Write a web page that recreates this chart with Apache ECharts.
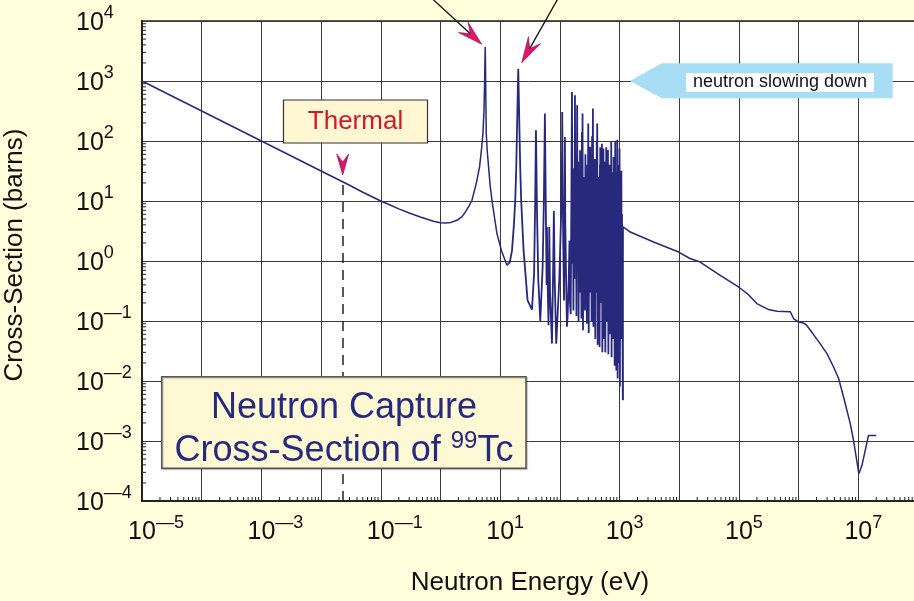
<!DOCTYPE html>
<html><head><meta charset="utf-8">
<script src="https://cdn.jsdelivr.net/npm/echarts@6/dist/echarts.min.js"></script>
<style>html,body{margin:0;padding:0;background:#ffffdc;}#c{width:914px;height:601px;}</style>
</head><body><div id="c"></div>
<script>
const FONT = '"Liberation Sans", Arial, Helvetica, sans-serif';

// ---- data: energy (eV) and capture cross-section (barns) ----
const thermalE = [1e-5, 1e-4, 1e-3, 1e-2, 0.03, 0.05, 0.1, 0.15, 0.2, 0.3, 0.46, 0.6, 0.76, 1.0, 1.2, 1.5, 1.89, 2.3, 2.6, 3.0, 3.37, 4.0, 4.52, 4.85, 5.15, 5.35, 5.48, 5.58, 5.62, 5.66, 5.75, 5.85, 6.1, 6.4, 6.8, 7.29, 8.0, 8.84, 10.5, 13.0];
const thermalXS = [1000, 316, 100, 31.6, 18.3, 14.0, 10, 8.4, 7.4, 6.3, 5.4, 4.95, 4.6, 4.35, 4.3, 4.4, 4.77, 5.5, 6.5, 8.2, 10.3, 20, 37, 70, 133, 300, 905, 2500, 3690, 2500, 600, 133, 65, 37, 18, 10.3, 5.5, 2.86, 1.5, 0.85];

const resLowE = [14.5, 15.8, 17.0, 17.9, 18.6, 19.1, 19.7, 20.1, 20.5, 21.1,
  21.7, 22.5, 24.7, 28.8, 34.1, 37.0, 38.5, 39.4, 39.8, 40.3,
  41.3, 43.5, 47.0, 51.5, 54.0, 55.5, 56.2, 57.0, 58.5, 60.0,
  60.8, 62.0, 64.6, 65.9, 66.5, 68.5, 73.8, 77.0, 79.4, 82.0,
  87.0, 98.0, 106.0, 109.0, 109.6, 111.0, 114.0, 117.5, 120.5, 121.6,
  123.5, 127.0, 131.5, 135.0, 141.0, 145.0, 148.0, 152.0];
const resLowXS = [0.95, 1.5, 4, 10.3, 35, 133, 600, 1600, 600, 133,
  35, 10.3, 1.5, 0.22, 0.155, 0.6, 8, 60, 151, 60,
  8, 0.5, 0.10, 0.8, 10, 100, 286, 60, 5, 0.4,
  3.7, 0.6, 0.085, 0.6, 3.7, 0.3, 0.042, 0.6, 6.8, 0.5,
  0.042, 0.5, 8, 80, 304, 40, 2, 0.22, 5, 117,
  4, 0.6, 0.08, 0.12, 0.5, 2.2, 0.2, 0.13];

const resHighE = [154.9, 159.6, 162.9, 166.0, 169.0, 172.2, 175.4, 179.1, 182.8, 186.2,
  189.7, 195.0, 198.6, 202.3, 206.1, 209.9, 213.8, 217.8, 221.8, 225.9,
  230.1, 234.4, 237.7, 239.9, 244.3, 248.9, 253.5, 258.2, 263.0, 267.9,
  272.9, 278.0, 283.1, 288.4, 292.4, 299.2, 304.8, 310.5, 316.2, 322.1,
  328.1, 334.2, 340.4, 346.7, 352.4, 358.1, 364.8, 371.5, 378.4, 385.5,
  392.6, 399.9, 407.4, 415.0, 418.8, 422.7, 430.5, 438.5, 446.7, 455.0,
  463.4, 469.9, 473.2, 475.4, 483.1, 490.9, 498.9, 507.0, 515.2, 522.4,
  529.7, 537.0, 545.8, 554.6, 562.3, 570.2, 578.1, 588.8, 594.3, 598.4,
  608.1, 616.6, 626.6, 639.7, 650.1, 660.7, 669.9, 679.2, 688.6, 698.2,
  707.9, 717.8, 722.8, 726.1, 736.2, 748.2, 758.6, 769.1, 779.8, 794.3,
  805.4, 816.6, 827.9, 837.5, 843.3, 847.2, 859.1, 871.0, 883.1, 895.4,
  905.7, 916.2, 929.0, 941.9, 955.0, 968.3, 979.5, 990.8, 995.4, 1000,
  1014, 1028, 1042, 1057, 1064, 1072, 1086, 1100, 1135];
const resHighXS = [0.13, 656, 0.9, 14, 0.15, 35, 0.5, 578, 1.0, 22,
  0.12, 394, 0.7, 45, 0.1, 8, 0.3, 70, 0.8, 12,
  0.11, 140, 2.0, 286, 0.07, 25, 0.5, 9, 0.15, 60,
  0.4, 18, 0.09, 40, 1.2, 195, 0.063, 30, 0.3, 80,
  0.8, 15, 0.1, 120, 2, 347, 0.08, 20, 0.5, 50,
  0.05, 12, 0.3, 100, 4, 195, 0.04, 25, 0.6, 8,
  0.037, 40, 3, 79, 0.2, 30, 0.9, 90, 0.03, 15,
  0.4, 75, 0.05, 20, 0.8, 45, 0.03, 12, 1.5, 79,
  0.1, 25, 0.5, 71, 0.028, 18, 0.3, 40, 0.06, 10,
  0.6, 35, 2, 96, 0.025, 20, 0.2, 30, 0.05, 54,
  0.3, 15, 0.018, 45, 1.5, 101, 0.1, 22, 0.015, 30,
  0.4, 105, 0.011, 25, 0.15, 40, 0.02, 15, 0.5, 75,
  0.008, 20, 0.2, 10, 0.05, 32, 0.3, 6, 0.0048];

const fastE = [1148, 1514, 3715, 9772, 15136, 22387, 48641, 98400, 144544, 199526,
  313329, 432514, 724436, 822243, 1.0e6, 1.2e6, 1.365e6, 2.29e6, 2.99e6, 3.85e6,
  4.68e6, 5.66e6, 7.33e6, 8.32e6, 1.02e7, 1.15e7, 1.48e7, 2.0e7];
const fastXS = [3.7, 3.04, 2.07, 1.41, 1.1, 0.96, 0.578, 0.369, 0.275, 0.195,
  0.155, 0.145, 0.143, 0.11, 0.096, 0.093, 0.085, 0.042, 0.0286, 0.0171,
  0.011, 0.0054, 0.00195, 0.00102, 0.000286, 0.00039, 0.00124, 0.00124];

const thermalEnergy = 0.0233;          // dashed "Thermal" marker position
const thermalMarkTop = 20.5;           // where the dashed line meets the curve

// axis ranges and tick decades
const X_MIN = 1e-5, X_MAX = 1e8, Y_MIN = 1e-4, Y_MAX = 1e4;
const xDecades = [-5, -4, -3, -2, -1, 0, 1, 2, 3, 4, 5, 6, 7];
const yDecades = [-4, -3, -2, -1, 0, 1, 2, 3];
const minorMultipliers = [2, 3, 4, 5, 6, 7, 8, 9];

const pairs = (E, S) => E.map((e, i) => [e, S[i]]);
const lowPart = pairs(thermalE, thermalXS);
const resPart = [lowPart[lowPart.length - 1]].concat(pairs(resLowE, resLowXS), pairs(resHighE, resHighXS));
const fastPart = [resPart[resPart.length - 1]].concat(pairs(fastE, fastXS));

const xMinor = [];
xDecades.forEach(d => minorMultipliers.forEach(m => xMinor.push([m * Math.pow(10, d), Y_MIN])));
const yMinor = [];
yDecades.forEach(d => minorMultipliers.forEach(m => yMinor.push([X_MIN, m * Math.pow(10, d)])));

function expOf(v) { return Math.round(Math.log10(v)); }
function expLabel(e) { return e < 0 ? '\u2014' + (-e) : String(e); }

function dart(tx, ty, dx, dy, len, hw) {
  const L = Math.hypot(dx, dy), ux = dx / L, uy = dy / L, nx = -uy, ny = ux;
  const bx = tx - ux * len, by = ty - uy * len;
  const mx = tx - ux * len * 0.62, my = ty - uy * len * 0.62;
  return { pts: [[tx, ty], [bx + nx * hw, by + ny * hw], [mx, my], [bx - nx * hw, by - ny * hw]], notch: [mx, my] };
}
const PINK = '#e5126f';
const a1 = dart(481.7, 44.3, 56.7, 52.3, 25, 7);
const a2 = dart(521.7, 62.7, -33.3, 58.7, 26, 7);
const a3 = dart(342.7, 175, 0, 1, 21, 6);
const CURVE = '#28287c';

const chart = echarts.init(document.getElementById('c'), null, { renderer: 'canvas' });
chart.setOption({
  animation: false,
  backgroundColor: '#ffffdc',
  textStyle: { fontFamily: FONT },
  grid: { left: 142, right: -4, top: 21, bottom: 100, show: true, backgroundColor: '#ffffff', borderColor: '#222', borderWidth: 1.5, containLabel: false, outerBoundsMode: 'none' },
  xAxis: {
    type: 'log', logBase: 10, min: X_MIN, max: X_MAX, interval: 1, splitNumber: 13,
    name: 'Neutron Energy (eV)', nameLocation: 'middle', nameGap: 69,
    nameTextStyle: { fontSize: 26, color: '#111', fontFamily: FONT },
    axisLine: { show: true, onZero: false, lineStyle: { color: '#222', width: 2 } },
    axisTick: { show: false },
    splitLine: { show: true, lineStyle: { color: '#3a3a3a', width: 1 } },
    axisLabel: {
      margin: 13, showMinLabel: true, showMaxLabel: false, verticalAlign: 'top', hideOverlap: false,
      formatter: v => {
        const e = expOf(v);
        if (e % 2 === 0 || e > 7) return '';
        const s = expLabel(e);
        return '{p|' + s + '}{b|10}{s|' + s + '}';
      },
      rich: {
        p: { fontSize: 18, lineHeight: 18, verticalAlign: 'top', color: 'rgba(0,0,0,0)', fontFamily: FONT },
        b: { fontSize: 25, lineHeight: 37, color: '#111', fontFamily: FONT },
        s: { fontSize: 18, lineHeight: 18, verticalAlign: 'top', color: '#111', fontFamily: FONT }
      }
    }
  },
  yAxis: {
    type: 'log', logBase: 10, min: Y_MIN, max: Y_MAX, interval: 1, splitNumber: 8,
    name: 'Cross-Section (barns)', nameLocation: 'middle', nameGap: 114,
    nameTextStyle: { fontSize: 26, color: '#111', fontFamily: FONT, padding: [0, 0, 0, 12] },
    axisLine: { show: true, onZero: false, lineStyle: { color: '#222', width: 2 } },
    axisTick: { show: false },
    splitLine: { show: true, lineStyle: { color: '#3a3a3a', width: 1 } },
    axisLabel: {
      margin: 66, align: 'left', padding: [4, 0, 0, 0], hideOverlap: false,
      formatter: v => '{b|10}{s|' + expLabel(expOf(v)) + '}',
      rich: {
        b: { fontSize: 25, lineHeight: 37, color: '#111', fontFamily: FONT },
        s: { fontSize: 18, lineHeight: 18, verticalAlign: 'top', color: '#111', fontFamily: FONT }
      }
    }
  },
  series: [
    {
      type: 'line', data: lowPart, showSymbol: false, symbol: 'none', sampling: null,
      lineStyle: { color: CURVE, width: 1.5 }, z: 3, silent: true,
      markLine: {
        silent: true, symbol: 'none', label: { show: false },
        lineStyle: { color: '#222', width: 1.5, type: [10, 7] },
        data: [[{ coord: [thermalEnergy, Y_MIN] }, { coord: [thermalEnergy, thermalMarkTop] }]]
      }
    },
    {
      type: 'line', data: resPart, showSymbol: false, symbol: 'none', sampling: null,
      lineStyle: { color: CURVE, width: 1.8 }, z: 3, silent: true
    },
    {
      type: 'line', data: fastPart, showSymbol: false, symbol: 'none', sampling: null,
      lineStyle: { color: CURVE, width: 1.5 }, z: 3, silent: true
    },
    {
      type: 'custom', coordinateSystem: 'cartesian2d', silent: true, clip: false, z: 4,
      data: xMinor,
      renderItem: (params, api) => {
        const p = api.coord([api.value(0), api.value(1)]);
        return { type: 'line', shape: { x1: p[0], y1: p[1], x2: p[0], y2: p[1] - 4 }, style: { stroke: '#222', lineWidth: 1 } };
      }
    },
    {
      type: 'custom', coordinateSystem: 'cartesian2d', silent: true, clip: false, z: 4,
      data: yMinor,
      renderItem: (params, api) => {
        const p = api.coord([api.value(0), api.value(1)]);
        return { type: 'line', shape: { x1: p[0], y1: p[1], x2: p[0] + 4, y2: p[1] }, style: { stroke: '#222', lineWidth: 1 } };
      }
    }
  ],
  graphic: [
    { type: 'rect', z: 100, shape: { x: 283.5, y: 100, width: 144, height: 43 }, style: { fill: '#fff6d2', stroke: '#333', lineWidth: 1.2 } },
    { type: 'text', z: 101, x: 355.5, y: 121.5, style: { text: 'Thermal', fill: '#d0182a', font: '26px ' + FONT, align: 'center', verticalAlign: 'middle', textAlign: 'center', textVerticalAlign: 'middle' } },
    { type: 'polygon', z: 101, shape: { points: a3.pts }, style: { fill: PINK, stroke: '#7a0838', lineWidth: 0.6 } },
    { type: 'line', z: 100, shape: { x1: 425, y1: -8, x2: a1.notch[0], y2: a1.notch[1] }, style: { stroke: '#111', lineWidth: 1.3 } },
    { type: 'polygon', z: 101, shape: { points: a1.pts }, style: { fill: PINK, stroke: '#7a0838', lineWidth: 0.6 } },
    { type: 'line', z: 100, shape: { x1: 560, y1: -5, x2: a2.notch[0], y2: a2.notch[1] }, style: { stroke: '#111', lineWidth: 1.3 } },
    { type: 'polygon', z: 101, shape: { points: a2.pts }, style: { fill: PINK, stroke: '#7a0838', lineWidth: 0.6 } },
    { type: 'polygon', z: 100, shape: { points: [[630, 81], [661.7, 63.3], [892.7, 63.3], [892.7, 98.3], [661.7, 98.3]] }, style: { fill: '#a8ddf6' } },
    { type: 'rect', z: 101, shape: { x: 686, y: 73.3, width: 188, height: 18.4 }, style: { fill: '#ffffff' } },
    { type: 'text', z: 102, x: 780, y: 82.5, style: { text: 'neutron slowing down', fill: '#111', font: '18px ' + FONT, align: 'center', verticalAlign: 'middle', textAlign: 'center', textVerticalAlign: 'middle' } },
    { type: 'rect', z: 100, shape: { x: 161.7, y: 376.7, width: 364.3, height: 91.6 }, style: { fill: '#fff8d4', stroke: '#555', lineWidth: 1.5, shadowColor: 'rgba(0,0,0,0.25)', shadowOffsetX: 1, shadowOffsetY: 1, shadowBlur: 1 } },
    { type: 'text', z: 101, x: 344, y: 429.5, style: {
        text: '{a|Neutron Capture}\n{a|Cross-Section of }{s|99}{a|Tc}',
        align: 'center', verticalAlign: 'middle', textAlign: 'center', textVerticalAlign: 'middle', fill: '#262a7f',
        rich: {
          a: { fontSize: 36, lineHeight: 43, fontFamily: FONT, fill: '#262a7f' },
          s: { fontSize: 24, lineHeight: 31, verticalAlign: 'top', fontFamily: FONT, fill: '#262a7f' }
        } } }
  ]
});
</script></body></html>
